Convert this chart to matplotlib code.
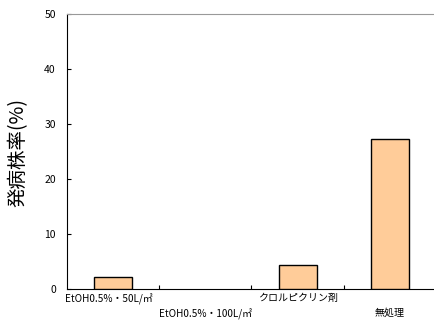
import matplotlib
matplotlib.use("Agg")
import matplotlib.pyplot as plt

plt.rcParams['font.family'] = ['Noto Sans CJK JP', 'DejaVu Sans']

categories = ["EtOH0.5%・50L/㎡", "EtOH0.5%・100L/㎡", "クロルピクリン剤", "無処理"]
values = [2.2, 0.0, 4.3, 27.2]

fig = plt.figure(figsize=(4.35, 3.22), dpi=100)
ax = fig.add_axes([67/435, 33/322, 369/435, 275/322])

x = list(range(len(categories)))
lws = [1.0 if v > 0 else 0 for v in values]
ax.bar(x, values, width=0.41, color='#FFCC99', edgecolor='black', linewidth=lws, zorder=3)

ax.set_xlim(-0.5, 3.5)
ax.set_ylim(0, 50)
ax.set_yticks(range(0, 51, 10))
ax.tick_params(axis='y', direction='in', length=3, labelsize=7.5, pad=8)
ax.set_xticks([0.5, 1.5, 2.5])
ax.set_xticklabels([])
ax.tick_params(axis='x', direction='in', length=3)

for i, lab in enumerate(categories):
    off = -0.016 if i % 2 == 0 else -0.07
    ax.text(i - (0.05 if i == 0 else 0), off, lab, transform=ax.get_xaxis_transform(),
            ha='center', va='top', fontsize=7.2)

ax.spines['top'].set_color('#999999')
ax.spines['right'].set_visible(False)
ax.spines['left'].set_color('black')
ax.spines['bottom'].set_color('black')

fig.text(18/435, 1 - 153/322, "発病株率(%)", rotation=90, ha='center', va='center', fontsize=14)

fig.savefig("out.png", dpi=100)
